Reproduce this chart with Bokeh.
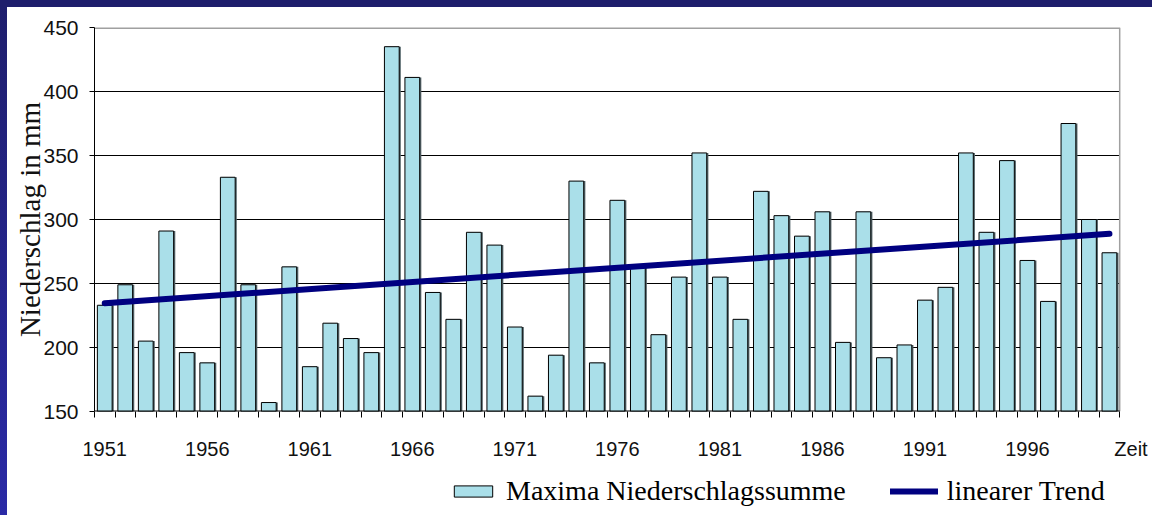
from bokeh.plotting import figure
from bokeh.models import Range1d, FixedTicker, Legend, LegendItem
from bokeh.layouts import column
from bokeh.embed import file_html
from bokeh.resources import INLINE

# Annual maximum precipitation totals (mm), 1951-2000
years = list(range(1951, 2001))
maxima = [233, 249, 205, 291, 196, 188, 333, 249, 157, 263,
          185, 219, 207, 196, 435, 411, 243, 222, 290, 280,
          216, 162, 194, 330, 188, 315, 263, 210, 255, 352,
          255, 222, 322, 303, 287, 306, 204, 306, 192, 202,
          237, 247, 352, 290, 346, 268, 236, 375, 300, 274]

# Linear trend, end points
trend_years = [1951, 2000]
trend_values = [234.6, 288.8]

label_years = [1951, 1956, 1961, 1966, 1971, 1976, 1981, 1986, 1991, 1996]
x_title = "Zeit"
x_title_pos = 2001.05
y_ticks = [150, 200, 250, 300, 350, 400, 450]
grid_values = [200, 250, 300, 350, 400]

x_lo, x_hi = years[0] - 0.5, years[-1] + 0.5   # plot-area extent
y_lo, y_hi = 150, 450

BAR_FILL = "#aadfe9"
TREND_COLOR = "#000080"

# the frame runs on past the last year so that the axis title can sit
# in the tick-label row at the right-hand end
p = figure(width=1145, height=458, output_backend="svg", toolbar_location=None,
           x_range=Range1d(x_lo, 2002.1), y_range=Range1d(y_lo, y_hi),
           min_border_left=87, min_border_right=0, min_border_top=20,
           min_border_bottom=54)
p.margin = (7, 0, 0, 7)
p.background_fill_color = "white"
p.border_fill_color = "white"
p.outline_line_color = None
p.xgrid.visible = False
p.ygrid.visible = False

# horizontal grid lines and the plot-area border
p.segment(x0=[x_lo] * len(grid_values), x1=[x_hi] * len(grid_values),
          y0=grid_values, y1=grid_values, line_color="black", line_width=1)
p.segment(x0=[x_lo], x1=[x_hi], y0=[y_hi], y1=[y_hi],
          line_color="#a0a0a0", line_width=3)
p.segment(x0=[x_hi], x1=[x_hi], y0=[y_lo], y1=[y_hi],
          line_color="#a0a0a0", line_width=1.5)

# bars with a thin drop shadow on the right
p.vbar(x=[y + 0.08 for y in years], top=maxima, bottom=y_lo, width=0.72,
       fill_color="#55666b", line_color=None)
p.vbar(x=years, top=maxima, bottom=y_lo, width=0.72,
       fill_color=BAR_FILL, line_color="black", line_width=1)
# x base line
p.segment(x0=[x_lo], x1=[x_hi], y0=[y_lo], y1=[y_lo],
          line_color="black", line_width=2)

p.line(trend_years, trend_values, line_color=TREND_COLOR, line_width=6,
       line_cap="round")

# x axis: boundary ticks between years, labels every fifth year
xa = p.xaxis[0]
xa.ticker = FixedTicker(ticks=label_years + [x_title_pos],
                        minor_ticks=[y - 0.5 for y in years] + [x_hi])
xa.major_label_overrides = {x_title_pos: x_title}
xa.axis_line_color = None
xa.major_tick_out = 0
xa.major_tick_in = 0
xa.minor_tick_out = 6
xa.minor_tick_in = 0
xa.minor_tick_line_color = "black"
xa.major_label_standoff = 20
xa.major_label_text_font = "Liberation Sans"
xa.major_label_text_font_size = "20px"
xa.major_label_text_color = "#111111"

ya = p.yaxis[0]
ya.ticker = FixedTicker(ticks=y_ticks)
ya.major_tick_out = 5
ya.major_tick_in = 0
ya.minor_tick_out = 0
ya.minor_tick_in = 0
ya.axis_line_color = "black"
ya.major_tick_line_color = "black"
ya.major_label_standoff = 11
ya.major_label_text_font = "Liberation Sans"
ya.major_label_text_font_size = "21px"
ya.major_label_text_color = "#111111"
ya.axis_label = "Niederschlag in mm"
ya.axis_label_text_font = "Liberation Serif"
ya.axis_label_text_font_size = "29px"
ya.axis_label_text_font_style = "normal"
ya.axis_label_text_color = "#111111"
ya.axis_label_standoff = -6

# legend strip under the chart; its key glyphs sit outside the visible range
lg = figure(width=1145, height=50, output_backend="svg", toolbar_location=None,
            x_range=Range1d(0, 1), y_range=Range1d(0, 1),
            x_axis_type=None, y_axis_type=None,
            min_border_left=0, min_border_right=0, min_border_top=0,
            min_border_bottom=0)
lg.margin = (0, 0, 0, 7)
lg.grid.visible = False
lg.outline_line_color = None
lg.background_fill_color = "white"
lg.border_fill_color = "white"
key_bar = lg.vbar(x=[-5], top=[-5], bottom=-6, width=0.5, fill_color=BAR_FILL,
                  line_color="black", line_width=1)
key_line = lg.line(x=[-5, -4], y=[-5, -5], line_color=TREND_COLOR, line_width=6,
                   line_cap="round")
legend = Legend(items=[LegendItem(label="Maxima Niederschlagssumme", renderers=[key_bar]),
                       LegendItem(label="linearer Trend", renderers=[key_line])],
                orientation="horizontal", location=(355, 8),
                glyph_width=48, glyph_height=14, label_standoff=9, spacing=44,
                padding=0, margin=0, border_line_color=None,
                background_fill_alpha=0,
                label_text_font="Liberation Serif", label_text_font_size="28px",
                label_text_color="black")
lg.add_layout(legend)

# navy frame along the top and left edges of the page, white elsewhere
page_bg = ("linear-gradient(#1e1e6c, #1e1e6c) top left / 100% 7px no-repeat, "
           "linear-gradient(180deg, #1e1e6c, #2a2aa6) top left / 7px 100% no-repeat, "
           "#ffffff")
page = column(p, lg, width=1152, height=515, spacing=0,
              styles={"background": page_bg})

open("out.html", "w").write(file_html(page, INLINE))
